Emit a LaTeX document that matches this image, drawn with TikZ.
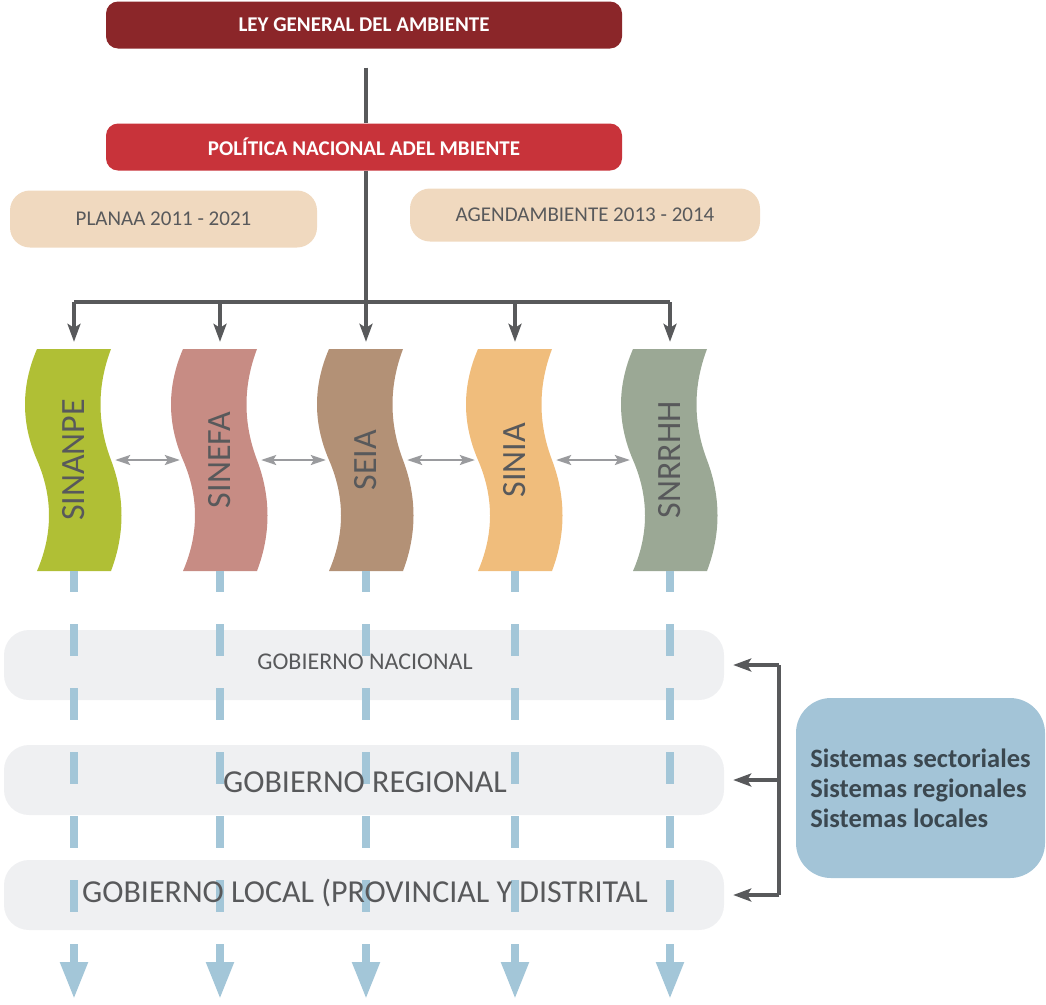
\documentclass[tikz,border=0pt]{standalone}
\usepackage{fontspec}
\setmainfont{Carlito}
\usetikzlibrary{arrows.meta}

\definecolor{leyred}{HTML}{8B2629}
\definecolor{polred}{HTML}{C8333A}
\definecolor{beige}{HTML}{F0D9BF}
\definecolor{treegray}{HTML}{58595B}
\definecolor{textgray}{HTML}{58595B}
\definecolor{linkgray}{HTML}{9A9B9E}
\definecolor{blueline}{HTML}{A3C6D8}
\definecolor{govgray}{HTML}{EFF0F2}
\definecolor{sisblue}{HTML}{A3C4D7}
\definecolor{sistext}{HTML}{3B4850}
\definecolor{sinanpecol}{HTML}{B0BF35}
\definecolor{sinefacol}{HTML}{C78C84}
\definecolor{seiacol}{HTML}{B39176}
\definecolor{siniacol}{HTML}{F0BD7C}
\definecolor{snrrhhcol}{HTML}{9BA895}

\begin{document}
\begin{tikzpicture}
        [x=1pt,y=-1pt,
        tree/.style={draw=treegray,line width=3.2pt},
        treearrow/.style={tree,-{Stealth[length=18pt,width=13pt,inset=4pt]}},
        topbox/.style={fill=#1,rounded corners=12pt,minimum width=516pt,minimum height=47pt,
                text=white,font=\fontsize{21}{24}\selectfont\bfseries},
        planbox/.style={fill=beige,rounded corners=20pt,text=textgray,font=\fontsize{21}{24}\selectfont},
        wavebox/.style={minimum width=76pt,minimum height=222pt,inner sep=0pt},
        wavetext/.style={rotate=90,text=textgray,font=\fontsize{34}{40}\selectfont},
        link/.style={draw=linkgray,line width=2pt,
                {Stealth[length=15pt,width=10pt,inset=3pt]}-{Stealth[length=15pt,width=10pt,inset=3pt]}},
        gov/.style={fill=govgray,rounded corners=25pt,minimum width=720pt,minimum height=70pt},
        govtext/.style={text=textgray,font=\fontsize{#1}{36}\selectfont},
        blue/.style={draw=blueline,line width=8pt,dash pattern=on 32pt off 32pt,dash phase=11pt,
                -{Triangle[length=37pt,width=26pt]}}]

        \useasboundingbox (0,0) rectangle (1046,1004);

        % top of the tree
        \node[topbox=leyred] (ley) at (364,25) {LEY GENERAL DEL AMBIENTE};
        \node[topbox=polred] (pol) at (364,147) {POLÍTICA NACIONAL ADEL MBIENTE};
        \node[planbox,minimum width=307pt,minimum height=57pt] (planaa) at (163.5,219) {PLANAA 2011 - 2021};
        \node[planbox,minimum width=350pt,minimum height=53pt] (agenda) at (585,215) {AGENDAMBIENTE 2013 - 2014};

        \coordinate (split) at (366,302);
        \coordinate (bottom) at (0,999);

        % the five systems
        \fill[sinanpecol,shift={(74,460)}] (-37,-111) .. controls (-53,-74) and (-53,-37) .. (-37,0)
                .. controls (-21,37) and (-21,74) .. (-37,111) -- (37,111) .. controls (51,74) and (51,37) .. (37,0)
                .. controls (23,-37) and (23,-74) .. (37,-111) -- cycle;
        \fill[sinefacol,shift={(220,460)}] (-37,-111) .. controls (-53,-74) and (-53,-37) .. (-37,0)
                .. controls (-21,37) and (-21,74) .. (-37,111) -- (37,111) .. controls (51,74) and (51,37) .. (37,0)
                .. controls (23,-37) and (23,-74) .. (37,-111) -- cycle;
        \fill[seiacol,shift={(366,460)}] (-37,-111) .. controls (-53,-74) and (-53,-37) .. (-37,0)
                .. controls (-21,37) and (-21,74) .. (-37,111) -- (37,111) .. controls (51,74) and (51,37) .. (37,0)
                .. controls (23,-37) and (23,-74) .. (37,-111) -- cycle;
        \fill[siniacol,shift={(515,460)}] (-37,-111) .. controls (-53,-74) and (-53,-37) .. (-37,0)
                .. controls (-21,37) and (-21,74) .. (-37,111) -- (37,111) .. controls (51,74) and (51,37) .. (37,0)
                .. controls (23,-37) and (23,-74) .. (37,-111) -- cycle;
        \fill[snrrhhcol,shift={(670,460)}] (-37,-111) .. controls (-53,-74) and (-53,-37) .. (-37,0)
                .. controls (-21,37) and (-21,74) .. (-37,111) -- (37,111) .. controls (51,74) and (51,37) .. (37,0)
                .. controls (23,-37) and (23,-74) .. (37,-111) -- cycle;

        \node[wavebox] (sinanpe) at (74,460) {};
        \node[wavebox] (sinefa) at (220,460) {};
        \node[wavebox] (seia) at (366,460) {};
        \node[wavebox] (sinia) at (515,460) {};
        \node[wavebox] (snrrhh) at (670,460) {};

        \node[wavetext] (sinanpet) at (sinanpe) {SINANPE};
        \node[wavetext] (sinefat) at (sinefa) {SINEFA};
        \node[wavetext] (seiat) at (seia) {SEIA};
        \node[wavetext] (siniat) at (sinia) {SINIA};
        \node[wavetext] (snrrhht) at (snrrhh) {SNRRHH};

        \draw[tree] ([yshift=-19pt]ley.south -| split) -- (pol.north -| split);
        \draw[tree] (pol.south -| split) -- (split);
        \draw[tree] (sinanpe.north |- split) -- (snrrhh.north |- split);
        \draw[treearrow,shorten >=7pt] (sinanpe.north |- split) -- (sinanpe.north);
        \draw[treearrow,shorten >=7pt] (sinefa.north |- split) -- (sinefa.north);
        \draw[treearrow,shorten >=7pt] (split) -- (seia.north);
        \draw[treearrow,shorten >=7pt] (sinia.north |- split) -- (sinia.north);
        \draw[treearrow,shorten >=7pt] (snrrhh.north |- split) -- (snrrhh.north);

        \draw[link,shorten <=3pt,shorten >=2pt] (sinanpe.east) -- (sinefa.west);
        \draw[link,shorten <=3pt,shorten >=2pt] (sinefa.east) -- (seia.west);
        \draw[link,shorten <=3pt,shorten >=2pt] (seia.east) -- (sinia.west);
        \draw[link,shorten <=3pt,shorten >=2pt] (sinia.east) -- (snrrhh.west);

        % levels of government
        \node[gov] (gn) at (364,665) {};
        \node[gov] (gr) at (364,780) {};
        \node[gov] (gl) at (364,895) {};

        \draw[blue] (sinanpe.south) -- (sinanpe.south |- bottom);
        \draw[blue] (sinefa.south) -- (sinefa.south |- bottom);
        \draw[blue] (seia.south) -- (seia.south |- bottom);
        \draw[blue] (sinia.south) -- (sinia.south |- bottom);
        \draw[blue] (snrrhh.south) -- (snrrhh.south |- bottom);

        \node[govtext=24] (gnt) at (365,662) {GOBIERNO NACIONAL};
        \node[govtext=32] (grt) at (365,782) {GOBIERNO REGIONAL};
        \node[govtext=32] (glt) at (365,893) {GOBIERNO LOCAL (PROVINCIAL Y DISTRITAL};

        % systems box and bracket
        \node[fill=sisblue,rounded corners=35pt,minimum width=249pt,minimum height=180pt,
                text=sistext,align=left,font=\fontsize{26.5}{30}\selectfont\bfseries] (sis) at (920.5,788)
                {Sistemas sectoriales\\Sistemas regionales\\Sistemas locales};

        \coordinate (brk) at (779,780);
        \draw[tree] (gn.east -| brk) -- (gl.east -| brk);
        \draw[treearrow,shorten >=9pt] (gn.east -| brk) -- (gn.east);
        \draw[treearrow,shorten >=9pt] (brk) -- (gr.east);
        \draw[treearrow,shorten >=9pt] (gl.east -| brk) -- (gl.east);
    \end{tikzpicture}
\end{document}
